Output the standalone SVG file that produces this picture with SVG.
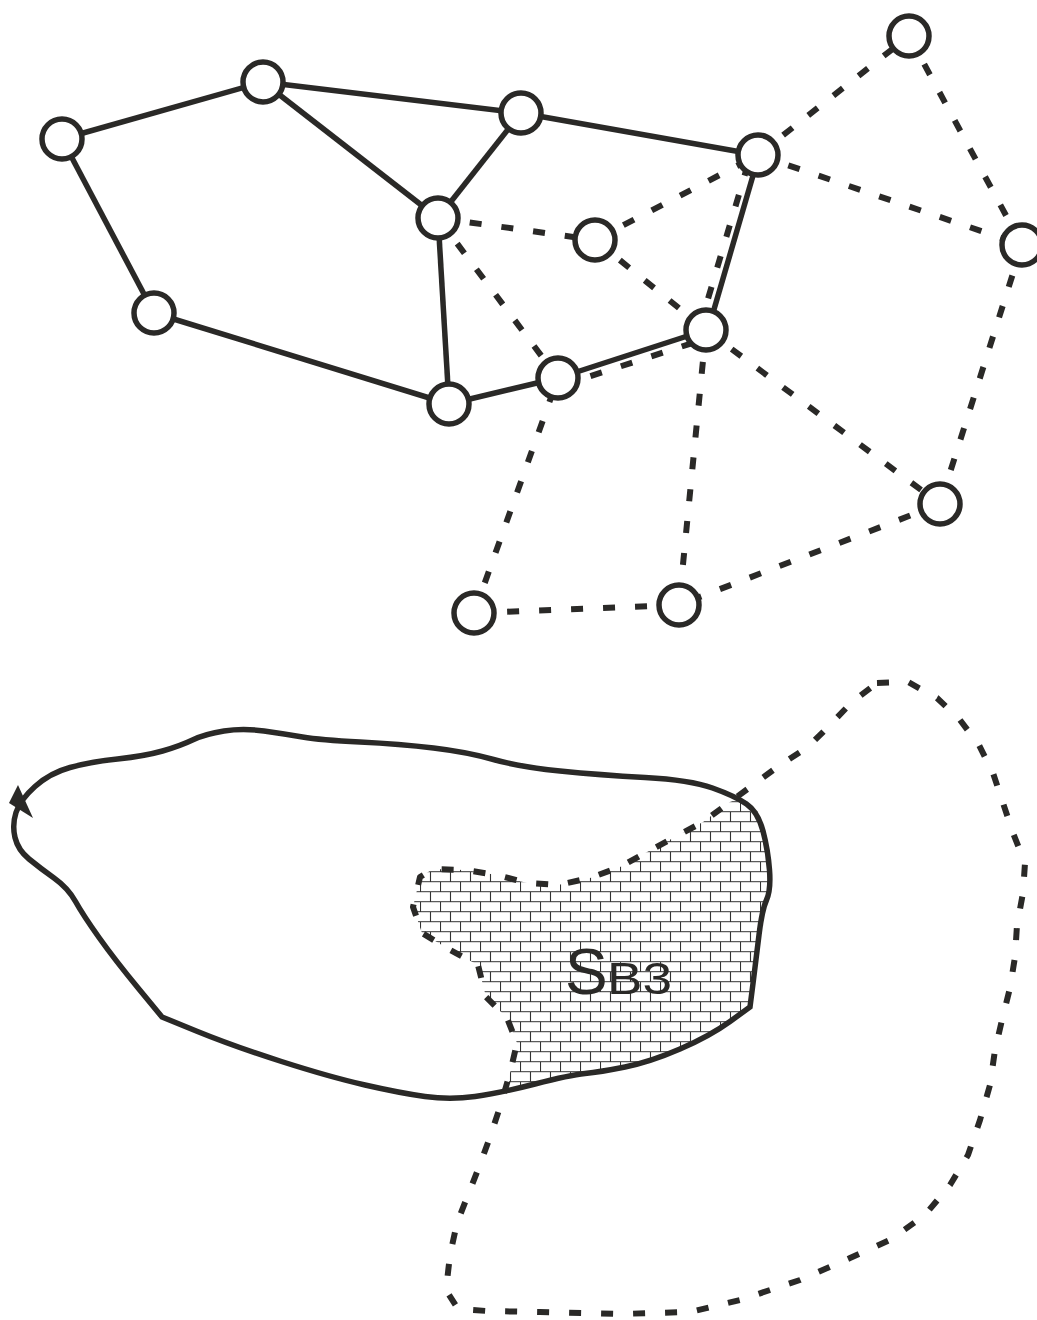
<svg xmlns="http://www.w3.org/2000/svg" width="1037" height="1320" viewBox="0 0 1037 1320">
<style>
.s{fill:none;stroke:#2a2927;stroke-width:5.5;stroke-linecap:butt}
.d{fill:none;stroke:#2a2927;stroke-width:6;stroke-dasharray:12 20}
.n{fill:#fff;stroke:#2a2927;stroke-width:5.5}
.t{fill:#2a2927;font-family:"Liberation Sans",Arial,sans-serif}
</style>
<defs>
<pattern id="brick" width="20" height="20" patternUnits="userSpaceOnUse" x="0" y="1.2">
<rect width="20" height="20" fill="#fff"/>
<path d="M0,0.5 H20 M0,10.5 H20 M0.5,0 V10.5 M10.5,10.5 V20" stroke="#333" stroke-width="1.1" fill="none"/>
</pattern>
</defs>
<rect width="1037" height="1320" fill="#fff"/>
<g id="connectors">
<line class="s" x1="62" y1="139" x2="263" y2="82"/>
<line class="s" x1="263" y1="82" x2="521" y2="113"/>
<line class="s" x1="263" y1="82" x2="438" y2="218"/>
<line class="s" x1="521" y1="113" x2="438" y2="218"/>
<line class="s" x1="521" y1="113" x2="758" y2="155"/>
<line class="s" x1="62" y1="139" x2="154" y2="313"/>
<line class="s" x1="154" y1="313" x2="449" y2="404"/>
<line class="s" x1="438" y1="218" x2="449" y2="404"/>
<line class="s" x1="449" y1="404" x2="558" y2="378"/>
<line class="s" x1="558" y1="378" x2="706" y2="330"/>
<line class="s" x1="708" y1="330" x2="759" y2="155"/>
<line class="d" x1="438" y1="218" x2="595" y2="240"/>
<line class="d" x1="595" y1="240" x2="758" y2="155"/>
<line class="d" x1="438" y1="218" x2="558" y2="378"/>
<line class="d" x1="595" y1="240" x2="706" y2="330"/>
<line class="d" x1="758" y1="155" x2="909" y2="36"/>
<line class="d" x1="909" y1="36" x2="1022" y2="245"/>
<line class="d" x1="758" y1="155" x2="1022" y2="245"/>
<line class="d" x1="1022" y1="245" x2="940" y2="504"/>
<line class="d" x1="706" y1="330" x2="940" y2="504"/>
<line class="d" x1="706" y1="330" x2="679" y2="605"/>
<line class="d" x1="940" y1="504" x2="679" y2="605"/>
<line class="d" x1="679" y1="605" x2="474" y2="613"/>
<line class="d" x1="474" y1="613" x2="558" y2="378"/>
<line class="d" x1="560" y1="386" x2="708" y2="338"/>
<line class="d" x1="699" y1="329" x2="751" y2="154"/>
</g>
<g id="nA"><circle class="n" cx="62" cy="139" r="20"/></g>
<g id="nB"><circle class="n" cx="263" cy="82" r="20"/></g>
<g id="nC"><circle class="n" cx="521" cy="113" r="20"/></g>
<g id="nD"><circle class="n" cx="438" cy="218" r="20"/></g>
<g id="nE"><circle class="n" cx="595" cy="240" r="20"/></g>
<g id="nF"><circle class="n" cx="758" cy="155" r="20"/></g>
<g id="nG"><circle class="n" cx="909" cy="36" r="20"/></g>
<g id="nH"><circle class="n" cx="1022" cy="245" r="20"/></g>
<g id="nI"><circle class="n" cx="706" cy="330" r="20"/></g>
<g id="nJ"><circle class="n" cx="558" cy="378" r="20"/></g>
<g id="nK"><circle class="n" cx="449" cy="404" r="20"/></g>
<g id="nL"><circle class="n" cx="154" cy="313" r="20"/></g>
<g id="nM"><circle class="n" cx="940" cy="504" r="20"/></g>
<g id="nN"><circle class="n" cx="679" cy="605" r="20"/></g>
<g id="nO"><circle class="n" cx="474" cy="613" r="20"/></g>
<g id="region">
<path fill="url(#brick)" stroke="none" d="M742,797 L730,802 703,822 675,837 647,852 620,867 590,878 558,885 527,883 497,875 465,870 433,869 420,877 413,907 422,933 450,950 478,965 486,997 507,1018 517,1043 510,1073 508,1090 535,1084 570,1075 600,1072 650,1062 710,1036 750,1007 753,983 756,960 762,910 771,890 768,850 758,812 Z"/>
<path class="s" d="M35,786.5 Q50,773 70,767.5 Q90,762 117.5,759 Q145,756 162.5,751 Q180,746 192.5,740 Q205,734 224,731 Q243,728 264,731 Q285,734 302.5,737 Q320,740 360,742 Q400,744 433.5,748 Q467,752 493.5,759.5 Q520,767 560,771 Q600,775 645,777.5 Q690,780 712.5,788 Q735,796 746.5,804 Q758,812 763,831 Q768,850 769.5,870 Q771,890 766.5,900 Q762,910 759,935 Q756,960 753,983.5 L750,1007 L730,1021.5 Q710,1036 680,1049 Q650,1062 625,1067 Q600,1072 585,1073.5 Q570,1075 535,1084 Q500,1093 475,1096.5 Q450,1100 425,1096.5 Q400,1093 365,1085 Q330,1077 281.5,1061.5 Q233,1046 197.5,1031.5 L162,1017 L138.5,988.5 Q115,960 99,937.5 Q83,915 75.5,901.5 Q68,888 54,878 Q40,868 29,859 Q18,850 15,837.5 Q12,825 16,812.5 Q20,800 35,786.5 Z"/>
<polygon points="18,785 9,803 33,818" fill="#2a2927"/>
<path class="d" stroke-linejoin="round" d="M877,683 L908,682 937,698 960,720 979,745 993,773 1003,803 1013,833 1025,863 1023,893 1017,925 1015,957 1010,988 1002,1020 995,1050 990,1085 980,1120 968,1155 950,1185 925,1215 890,1240 850,1258 800,1280 740,1300 690,1312 620,1314 540,1312 487,1311 458,1309 446,1290 450,1255 457,1223 468,1195 479,1167 490,1137 500,1107 510,1073 517,1043 507,1018 486,997 478,965 450,950 422,933 413,907 420,877 433,869 465,870 497,875 527,883 558,885 590,878 620,867 647,852 675,837 703,822 730,802 753,785 780,765 808,747 830,725 852,702 Z"/>
<text class="t" x="565" y="994" font-size="64">S</text>
<text class="t" x="607" y="994" font-size="44" textLength="65" lengthAdjust="spacingAndGlyphs">B3</text>
</g>
</svg>
